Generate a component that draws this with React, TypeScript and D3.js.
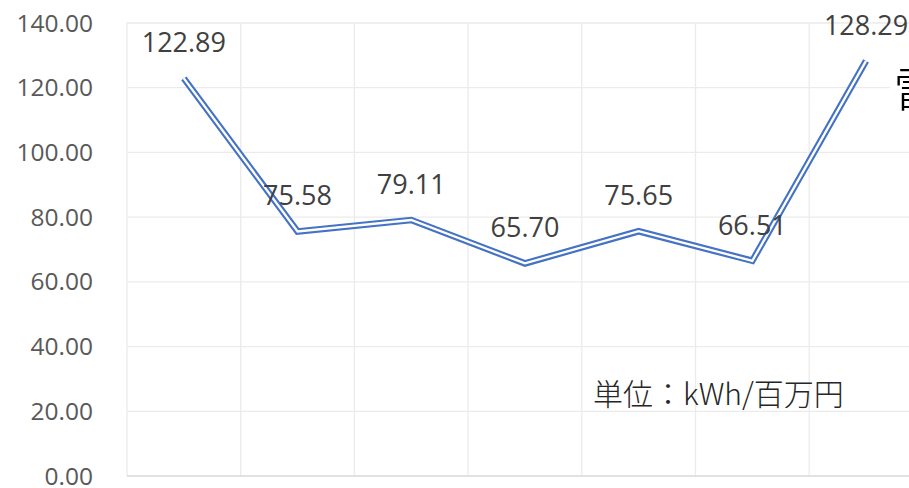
import React from 'react'
import * as d3 from 'd3'

// categories are cut off in the source picture, so only placeholders
const categories = ['1', '2', '3', '4', '5', '6', '7']
const values = [122.89, 75.58, 79.11, 65.7, 75.65, 66.51, 128.29]
const yTicks = [0, 20, 40, 60, 80, 100, 120, 140]
const unitLabel = '単位：kWh/百万円'
const sideLabel = '電'

const W = 909
const H = 488
const margin = { top: 23, left: 127, bottom: 12 }
const bandW = 113.7

const App = () => {
  const x = d3
    .scaleBand()
    .domain(categories)
    .range([margin.left, margin.left + bandW * categories.length])

  const y = d3
    .scaleLinear()
    .domain([0, 140])
    .range([H - margin.bottom, margin.top])

  const cx = (c: string) => (x(c) as number) + x.bandwidth() / 2

  const line = d3
    .line<number>()
    .x((d, i) => cx(categories[i]))
    .y(d => y(d))

  const right = x.range()[1]
  const vLines = categories.map(c => x(c) as number).concat([right])
  const font = "'Open Sans', sans-serif"

  return (
    <svg
      width={W}
      height={H}
      style={{ position: 'absolute', left: 0, top: 0, background: '#fff' }}
    >
      {/* grid */}
      <g stroke="#ebebeb" strokeWidth={1.3}>
        {yTicks.slice(1).map(t => (
          <line key={t} x1={margin.left} x2={right} y1={y(t)} y2={y(t)} />
        ))}
        {vLines.map((v, i) => (
          <line key={i} x1={v} x2={v} y1={y(140)} y2={y(0)} />
        ))}
      </g>
      <line x1={margin.left} x2={right} y1={y(0)} y2={y(0)} stroke="#d9d9d9" strokeWidth={1.3} />

      {/* y tick labels */}
      <g fontFamily={font} fontSize={24.5} fill="#595959" textAnchor="end">
        {yTicks.map(t => (
          <text key={t} x={93} y={y(t)} dy="0.35em">
            {t.toFixed(2)}
          </text>
        ))}
      </g>

      {/* double line */}
      <path d={line(values) || ''} fill="none" stroke="#4472c4" strokeWidth={6.6} strokeLinejoin="miter" />
      <path d={line(values) || ''} fill="none" stroke="#fff" strokeWidth={2.3} strokeLinejoin="miter" />

      {/* data labels */}
      <g fontFamily={font} fontSize={27} fill="#404040" textAnchor="middle">
        {values.map((v, i) => (
          <text key={i} x={cx(categories[i])} y={y(v) - 26}>
            {v.toFixed(2)}
          </text>
        ))}
      </g>

      {/* unit */}
      <text
        x={593}
        y={405}
        fontFamily="'Noto Sans CJK JP', sans-serif"
        fontSize={30}
        fontWeight={300}
        fill="#262626"
      >
        {unitLabel}
      </text>

      {/* cut-off title box on the right */}
      <rect x={890} y={62} width={30} height={58} fill="#fff" />
      <text
        x={893}
        y={111}
        fontFamily="'Noto Sans CJK JP', sans-serif"
        fontSize={52}
        fontWeight={300}
        fill="#000"
      >
        {sideLabel}
      </text>
    </svg>
  )
}

export default App
